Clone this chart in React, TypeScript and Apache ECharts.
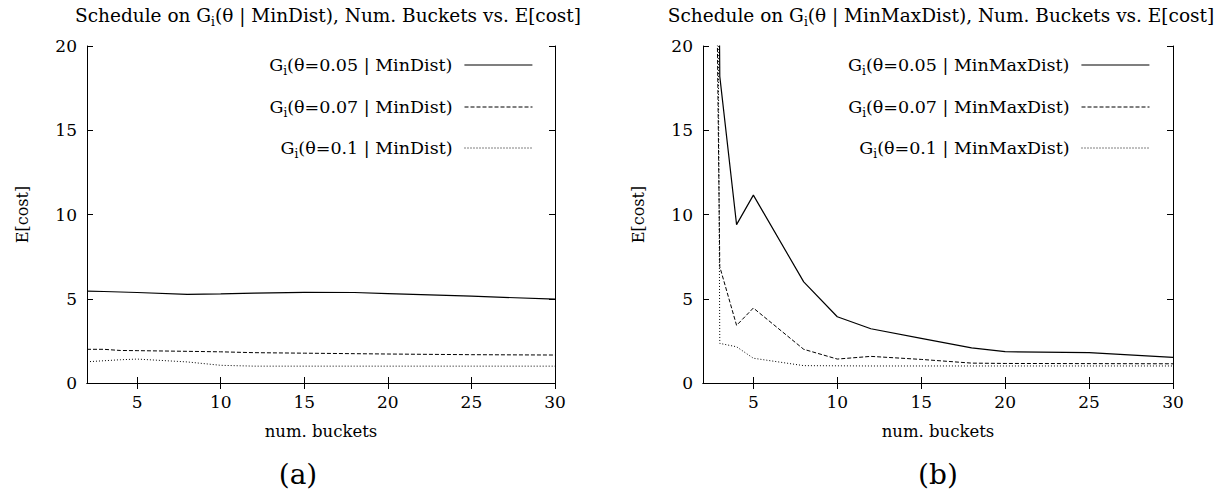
import React, { useEffect, useRef } from "react";
import * as echarts from "echarts";

const xs = [2, 3, 4, 5, 8, 10, 12, 15, 18, 20, 25, 30];
const minDist005 = [5.45, 5.43, 5.4, 5.37, 5.26, 5.29, 5.33, 5.38, 5.37, 5.3, 5.15, 4.98];
const minDist007 = [2.0, 2.0, 1.93, 1.92, 1.88, 1.85, 1.8, 1.77, 1.74, 1.72, 1.68, 1.66];
const minDist01 = [1.26, 1.32, 1.38, 1.42, 1.25, 1.05, 1.0, 1.0, 1.0, 1.0, 1.0, 1.0];
const minMax005 = [150, 18.2, 9.4, 11.15, 6.0, 3.93, 3.22, 2.65, 2.08, 1.86, 1.8, 1.52];
const minMax007 = [100, 6.9, 3.42, 4.45, 2.0, 1.42, 1.58, 1.4, 1.18, 1.16, 1.15, 1.14];
const minMax01 = [200, 2.35, 2.15, 1.47, 1.03, 1.02, 1.01, 1.01, 1.01, 1.01, 1.01, 1.01];

const xTicks = [5, 10, 15, 20, 25, 30];
const titles = [
  "Schedule on G_i(θ | MinDist), Num. Buckets vs. E[cost]",
  "Schedule on G_i(θ | MinMaxDist), Num. Buckets vs. E[cost]",
];
const names = [
  ["G_i(θ=0.05 | MinDist)", "G_i(θ=0.07 | MinDist)", "G_i(θ=0.1 | MinDist)"],
  ["G_i(θ=0.05 | MinMaxDist)", "G_i(θ=0.07 | MinMaxDist)", "G_i(θ=0.1 | MinMaxDist)"],
];
const panelLabels = ["(a)", "(b)"];

const FONT = "DejaVu Serif";
const sub = (s: string) => s.replace("G_i", "G{sub|i}");
const richSub = (size: number) => ({
  sub: { fontSize: size, fontFamily: FONT, color: "#000", verticalAlign: "bottom", lineHeight: size, padding: [0, 0, -3, 0] },
});

export default function App() {
  const ref = useRef<HTMLDivElement>(null);
  useEffect(() => {
    const chart = echarts.init(ref.current!, null, { renderer: "svg" });
    const grids = [
      { left: 87, top: 46, width: 468, height: 337 },
      { left: 703, top: 46, width: 470, height: 337 },
    ];
    const axisLine = { lineStyle: { color: "#000", width: 1 } };
    const xAxis: any[] = [];
    const yAxis: any[] = [];
    grids.forEach((_, g) => {
      xAxis.push({
        type: "value", gridIndex: g, min: 2, max: 30, position: "bottom",
        axisLine, splitLine: { show: false },
        axisTick: { inside: true, length: 6, customValues: xTicks, lineStyle: { color: "#000" } },
        axisLabel: { customValues: xTicks, color: "#000", fontSize: 17, fontFamily: FONT, margin: 10 },
        name: "num. buckets", nameLocation: "middle", nameGap: 40,
        nameTextStyle: { color: "#000", fontSize: 16.5, fontFamily: FONT },
      });
      xAxis.push({
        type: "value", gridIndex: g, min: 2, max: 30, position: "top",
        axisLine, splitLine: { show: false },
        axisTick: { inside: true, length: 6, customValues: xTicks, lineStyle: { color: "#000" } },
        axisLabel: { show: false },
      });
      yAxis.push({
        type: "value", gridIndex: g, min: 0, max: 20, interval: 5, position: "left",
        axisLine: { show: true, ...axisLine }, splitLine: { show: false },
        axisTick: { show: true, inside: true, length: 6, lineStyle: { color: "#000" } },
        axisLabel: { color: "#000", fontSize: 17, fontFamily: FONT, margin: 10 },
        name: "E[cost]", nameLocation: "middle", nameGap: 57, nameRotate: 90,
        nameTextStyle: { color: "#000", fontSize: 16, fontFamily: FONT },
      });
      yAxis.push({
        type: "value", gridIndex: g, min: 0, max: 20, interval: 5, position: "right",
        axisLine: { show: true, ...axisLine }, splitLine: { show: false },
        axisTick: { show: true, inside: true, length: 6, lineStyle: { color: "#000" } },
        axisLabel: { show: false },
      });
    });
    const dataSets = [
      [minDist005, minDist007, minDist01],
      [minMax005, minMax007, minMax01],
    ];
    const types: any[] = ["solid", [4, 2], [1, 2]];
    const widths = [1.2, 1, 1];
    const series: any[] = [];
    dataSets.forEach((set, g) =>
      set.forEach((vals, k) =>
        series.push({
          type: "line", name: names[g][k], xAxisIndex: g * 2, yAxisIndex: g * 2,
          data: xs.map((x, i) => [x, vals[i]]), symbol: "none", clip: true,
          lineStyle: { color: "#000", width: widths[k], type: types[k] },
          itemStyle: { color: "#000" },
        })
      )
    );
    const legendRight = [691, 74];
    const legendTops = [56, 98, 139];
    const legend: any[] = [];
    names.forEach((row, g) =>
      row.forEach((n, k) =>
        legend.push({
          data: [n], right: legendRight[g], top: legendTops[k], orient: "vertical", align: "right",
          itemWidth: 68, itemHeight: 10, padding: 0, selectedMode: false,
          itemStyle: { opacity: 0 },
          lineStyle: { width: widths[k] },
          formatter: (name: string) => sub(name),
          textStyle: { color: "#000", fontSize: 17.5, fontFamily: FONT, padding: [0, 7, 0, 0], rich: richSub(12) },
        })
      )
    );
    const title = titles.map((t, g) => ({
      text: sub(t), left: g === 0 ? 323 : 936, top: 1, textAlign: "center",
      textStyle: { color: "#000", fontSize: 18.5, fontWeight: "normal", fontFamily: FONT, rich: richSub(12) },
    }));
    chart.setOption({
      animation: false,
      backgroundColor: "#fff",
      textStyle: { fontFamily: FONT, color: "#000" },
      title,
      legend,
      grid: grids.map((g) => ({ ...g, containLabel: false })),
      xAxis,
      yAxis,
      series,
      graphic: panelLabels.map((p, g) => ({
        type: "text", x: g === 0 ? 298 : 938, y: 474,
        style: { text: p, fontSize: 28, fontFamily: FONT, fill: "#000", align: "center", verticalAlign: "middle" },
      })),
    });
    return () => chart.dispose();
  }, []);
  return <div ref={ref} style={{ position: "fixed", left: 0, top: 0, width: 1224, height: 491 }} />;
}
